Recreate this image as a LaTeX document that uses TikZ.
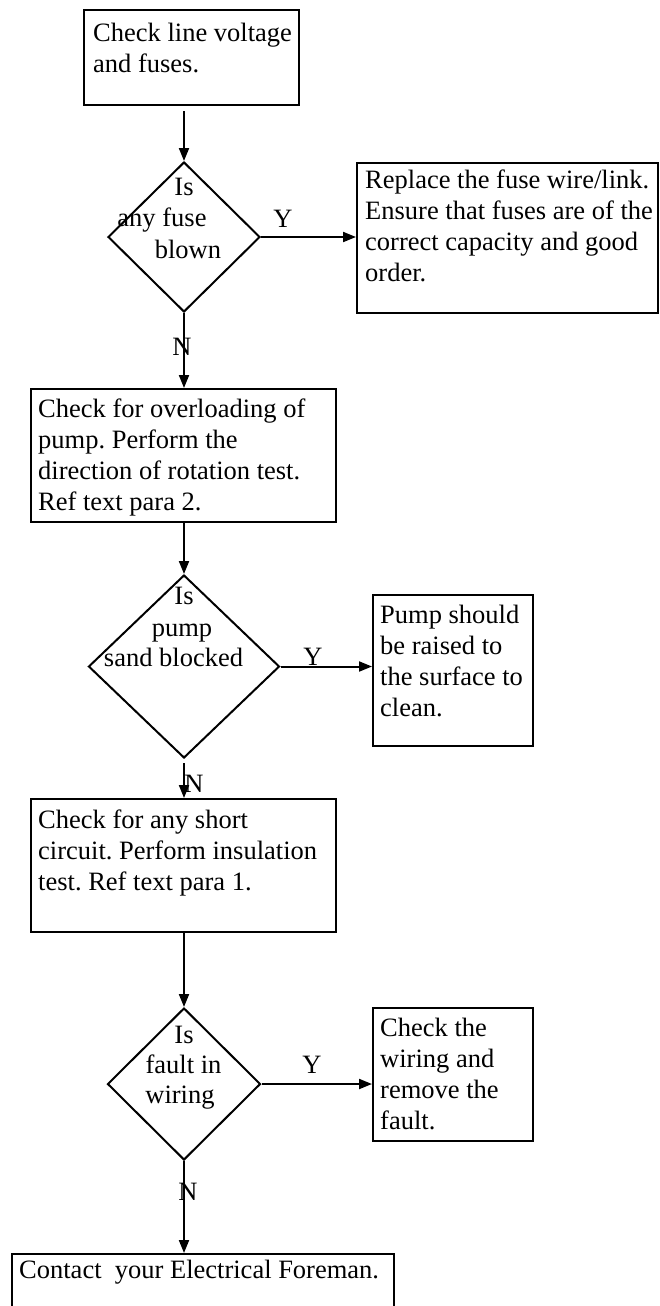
\documentclass[tikz,border=0pt]{standalone}
\usepackage{fontspec}
\setmainfont{Liberation Serif}
\frenchspacing
\usetikzlibrary{arrows.meta,shapes.geometric}
\begin{document}
\begin{tikzpicture}[x=1pt,y=-1pt,
  every node/.style={font=\fontsize{26.5}{31}\selectfont},
  box/.style={draw,line width=2pt,rectangle,inner sep=0pt},
  dia/.style={draw,line width=2pt,diamond,inner sep=0pt},
  txt/.style={anchor=north west,inner sep=0pt,align=left},
  dtxt/.style={anchor=base,inner sep=0pt},
  lbl/.style={anchor=base,inner sep=0pt},
  arr/.style={line width=2pt,-{Triangle[length=13pt,width=10pt]}}]
\useasboundingbox[fill=white] (0,0) rectangle (660,1306);

% boxes
\node[box,minimum width=215pt,minimum height=95pt] (b1) at (191.5,57.5) {};
\node[dia,minimum width=152pt,minimum height=150pt] (d1) at (184,237) {};
\node[box,minimum width=301pt,minimum height=150pt] (b2) at (507.5,238) {};
\node[box,minimum width=305pt,minimum height=133pt] (b3) at (183.5,455.5) {};
\node[dia,minimum width=191pt,minimum height=183pt] (d2) at (184,666.5) {};
\node[box,minimum width=160pt,minimum height=151pt] (b4) at (453,670.5) {};
\node[box,minimum width=305pt,minimum height=133pt] (b5) at (183.5,865.5) {};
\node[dia,minimum width=153pt,minimum height=152pt] (d3) at (184,1084) {};
\node[box,minimum width=160pt,minimum height=133pt] (b6) at (453,1074.5) {};
\node[box,minimum width=382pt,minimum height=80pt] (b7) at (203,1294) {};

% box texts
\node[txt] (t1) at (93,22.5) {Check line voltage\\and fuses.};
\node[txt] (t2) at (365,169.5) {Replace the fuse wire/link.\\Ensure that fuses are of the\\correct capacity and good\\order.};
\node[txt] (t3) at (38,398.5) {Check for overloading of\\pump. Perform the\\direction of rotation test.\\Ref text para 2.};
\node[txt] (t4) at (380,604.5) {Pump should\\be raised to\\the surface to\\clean.};
\node[txt] (t5) at (38,809.5) {Check for any short\\circuit. Perform insulation\\test. Ref text para 1.};
\node[txt] (t6) at (380,1017.5) {Check the\\wiring and\\remove the\\fault.};
\node[txt] (t7) at (19,1259.5) {Contact\ \ your Electrical Foreman.};

% diamond texts
\node[dtxt] (d1a) at (184,195) {Is};
\node[dtxt] (d1b) at (162,226) {any fuse};
\node[dtxt] (d1c) at (188,258) {blown};
\node[dtxt] (d2a) at (184,604) {Is};
\node[dtxt] (d2b) at (182,636) {pump};
\node[dtxt] (d2c) at (173.5,666) {sand blocked};
\node[dtxt] (d3a) at (184,1043) {Is};
\node[dtxt] (d3b) at (183.5,1073) {fault in};
\node[dtxt] (d3c) at (180,1103) {wiring};

% labels
\node[lbl] (y1) at (283,227) {Y};
\node[lbl] (n1) at (182,355) {N};
\node[lbl] (y2) at (313,665) {Y};
\node[lbl] (n2) at (194,792) {N};
\node[lbl] (y3) at (312,1073) {Y};
\node[lbl] (n3) at (188,1200) {N};

% connectors
\draw[arr] ([yshift=-5pt]b1.south -| d1.north) -- (d1.north);
\draw[arr] (d1.east) -- (d1.east -| b2.west);
\draw[arr] (d1.south) -- (d1.south |- b3.north);
\draw[arr] (b3.south -| d2.north) -- (d2.north);
\draw[arr] (d2.east) -- (d2.east -| b4.west);
\draw[arr] ([yshift=-4pt]d2.south) -- (d2.south |- b5.north);
\draw[arr] (b5.south -| d3.north) -- (d3.north);
\draw[arr] (d3.east) -- (d3.east -| b6.west);
\draw[arr] (d3.south) -- (d3.south |- b7.north);
\end{tikzpicture}
\end{document}
